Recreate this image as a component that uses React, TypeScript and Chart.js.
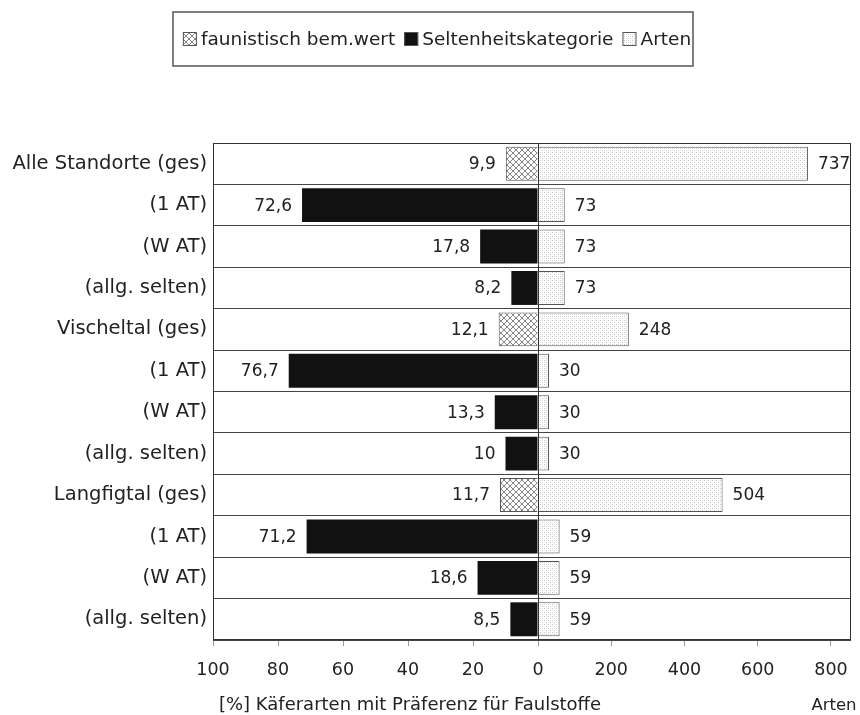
import React, { useEffect, useRef } from "react";
import { Chart, registerables } from "chart.js";
Chart.register(...registerables);

const categories = [
  "Alle Standorte (ges)", "(1 AT)", "(W AT)", "(allg. selten)",
  "Vischeltal (ges)", "(1 AT)", "(W AT)", "(allg. selten)",
  "Langfigtal (ges)", "(1 AT)", "(W AT)", "(allg. selten)",
];
const faunistisch = [9.9, null, null, null, 12.1, null, null, null, 11.7, null, null, null];
const seltenheit = [null, 72.6, 17.8, 8.2, null, 76.7, 13.3, 10, null, 71.2, 18.6, 8.5];
const arten = [737, 73, 73, 73, 248, 30, 30, 30, 504, 59, 59, 59];
const pctTicks = [100, 80, 60, 40, 20, 0];
const artenTicks = [200, 400, 600, 800];
const legendLabels = ["faunistisch bem.wert", "Seltenheitskategorie", "Arten"];
const axisTitleLeft = "[%] Käferarten mit Präferenz für Faulstoffe";
const axisTitleRight = "Arten";

// scale: 100 % spans 325px, 800 Arten span 293px
const ARTEN_UNIT = (293 / 325) * 100 / 800;
const X_MAX = (851 - 538) / 3.25;
const FONT = "'DejaVu Sans', sans-serif";
const TXT = "#222";

function makeHatch(): CanvasPattern | string {
  const c = document.createElement("canvas");
  c.width = 6; c.height = 6;
  const g = c.getContext("2d")!;
  g.fillStyle = "#fff"; g.fillRect(0, 0, 6, 6);
  g.strokeStyle = "#777"; g.lineWidth = 0.9;
  g.beginPath();
  g.moveTo(0, 0); g.lineTo(6, 6);
  g.moveTo(6, 0); g.lineTo(0, 6);
  g.stroke();
  return g.createPattern(c, "repeat") || "#ccc";
}
function makeDots(): CanvasPattern | string {
  const c = document.createElement("canvas");
  c.width = 4; c.height = 4;
  const g = c.getContext("2d")!;
  g.fillStyle = "#fff"; g.fillRect(0, 0, 4, 4);
  g.fillStyle = "#c8c8c8";
  g.fillRect(0, 0, 1, 1); g.fillRect(2, 2, 1, 1);
  g.fillStyle = "#e4e4e4";
  g.fillRect(2, 0, 1, 1); g.fillRect(0, 2, 1, 1);
  return g.createPattern(c, "repeat") || "#eee";
}
const fmt = (v: number) => String(v).replace(".", ",");

export default function App() {
  const ref = useRef<HTMLCanvasElement>(null);
  useEffect(() => {
    document.body.style.margin = "0";
    const hatch = makeHatch();
    const dots = makeDots();
    const pctLabels = pctTicks.map(String);
    const artLabels = artenTicks.map(String);
    const tickLabels = [...pctLabels, ...artLabels];
    const tickValues = [...pctTicks.map((v) => -v), ...artenTicks.map((v) => v * ARTEN_UNIT)];

    const extras = {
      id: "extras",
      afterDatasetsDraw(chart: any) {
        const ctx = chart.ctx;
        const ca = chart.chartArea;
        ctx.save();
        // zero line
        const x0 = chart.scales.x.getPixelForValue(0);
        ctx.strokeStyle = "#333"; ctx.lineWidth = 1;
        ctx.beginPath(); ctx.moveTo(Math.round(x0) + 0.5, ca.top); ctx.lineTo(Math.round(x0) + 0.5, ca.bottom); ctx.stroke();
        // frame
        ctx.strokeStyle = "#333";
        ctx.strokeRect(ca.left + 0.5, ca.top + 0.5, ca.right - ca.left - 1, ca.bottom - ca.top - 1);
        // value labels
        ctx.font = `17px ${FONT}`;
        ctx.fillStyle = TXT;
        ctx.textBaseline = "middle";
        [faunistisch, seltenheit].forEach((arr, di) => {
          const meta = chart.getDatasetMeta(di);
          arr.forEach((v, i) => {
            if (v == null) return;
            const el = meta.data[i];
            ctx.textAlign = "right";
            ctx.fillText(fmt(v), el.x - 10, el.y + 1);
          });
        });
        const m2 = chart.getDatasetMeta(2);
        arten.forEach((v, i) => {
          const el = m2.data[i];
          ctx.textAlign = "left";
          ctx.fillText(fmt(v), el.x + 10, el.y + 1);
        });
        // axis titles
        ctx.font = `18px ${FONT}`;
        ctx.textAlign = "center";
        ctx.fillText(axisTitleLeft, 410, 705);
        ctx.font = `16.5px ${FONT}`;
        ctx.fillText(axisTitleRight, 834, 706);
        // legend
        const fills = [hatch, "#111", dots];
        ctx.font = `18.5px ${FONT}`;
        const sq = 14, gapT = 4, gapI = 9;
        const widths = legendLabels.map((t) => sq + gapT + ctx.measureText(t).width);
        const total = widths.reduce((a, b) => a + b, 0) + gapI * (legendLabels.length - 1);
        let lx = 437 - total / 2;
        const ly = 39;
        ctx.strokeStyle = "#555"; ctx.lineWidth = 1.5;
        ctx.strokeRect(173, 12, 520, 54);
        ctx.textAlign = "left";
        legendLabels.forEach((t, i) => {
          ctx.fillStyle = fills[i] as any;
          ctx.fillRect(lx, ly - sq / 2, sq, sq);
          ctx.strokeStyle = "#555"; ctx.lineWidth = 1;
          ctx.strokeRect(lx + 0.5, ly - sq / 2 + 0.5, sq - 1, sq - 1);
          ctx.fillStyle = TXT;
          ctx.fillText(t, lx + sq + gapT, ly + 1);
          lx += widths[i] + gapI;
        });
        ctx.restore();
      },
    };

    const chart = new Chart(ref.current!, {
      type: "bar",
      data: {
        labels: categories,
        datasets: [
          {
            label: legendLabels[0],
            data: faunistisch.map((v) => (v == null ? null : -v)),
            backgroundColor: hatch as any,
            borderColor: "#555", borderWidth: 1,
          },
          {
            label: legendLabels[1],
            data: seltenheit.map((v) => (v == null ? null : -v)),
            backgroundColor: "#111",
            borderColor: "#111", borderWidth: 0,
          },
          {
            label: legendLabels[2],
            data: arten.map((v) => v * ARTEN_UNIT),
            backgroundColor: dots as any,
            borderColor: "#555", borderWidth: 1,
          },
        ],
      },
      plugins: [extras],
      options: {
        indexAxis: "y",
        animation: false,
        responsive: false,
        maintainAspectRatio: false,
        layout: { padding: { top: 143, right: 9, bottom: 0, left: 0 } },
        datasets: { bar: { grouped: false, barPercentage: 0.82, categoryPercentage: 1 } } as any,
        plugins: { legend: { display: false }, tooltip: { enabled: false } },
        scales: {
          x: {
            type: "linear",
            min: -100,
            max: X_MAX,
            afterBuildTicks: (s: any) => { s.ticks = tickValues.map((v) => ({ value: v })); },
            afterFit: (s: any) => { s.height = 75; s.paddingLeft = 0; s.paddingRight = 0; },
            ticks: {
              autoSkip: false,
              maxRotation: 0,
              padding: 14,
              color: TXT,
              font: { family: FONT, size: 17.5 },
              callback: (_v: any, i: number) => tickLabels[i],
            },
            grid: { drawOnChartArea: false, drawTicks: true, tickLength: 6, color: "#999" },
            border: { display: false },
          },
          y: {
            afterFit: (s: any) => { s.width = 213; },
            ticks: {
              color: TXT,
              padding: 6,
              font: { family: FONT, size: 19.5 },
            },
            grid: { offset: true, drawTicks: false, color: "#444" },
            border: { display: false },
          },
        },
      },
    });
    return () => chart.destroy();
  }, []);
  return <canvas ref={ref} width={860} height={715} style={{ display: "block" }} />;
}
